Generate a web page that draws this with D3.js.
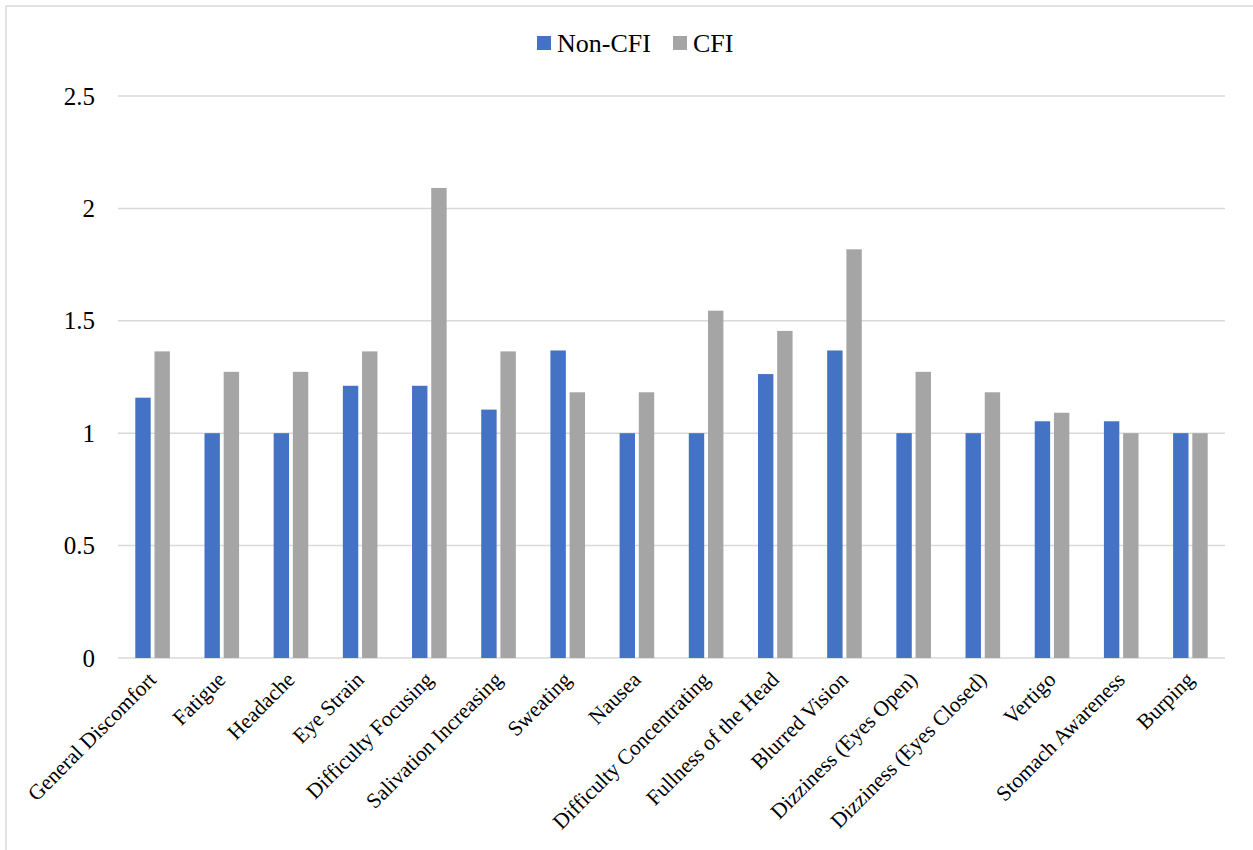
<!DOCTYPE html>
<html>
<head>
<meta charset="utf-8">
<script src="https://cdnjs.cloudflare.com/ajax/libs/d3/7.8.5/d3.min.js"></script>
<style>
  html, body { margin: 0; padding: 0; background: #fff; }
  svg { display: block; font-family: "Liberation Serif", "Times New Roman", serif; }
</style>
</head>
<body>
<svg id="chart" width="1253" height="850"></svg>
<script>
// Symptom categories along the x axis
const categories = [
  "General Discomfort", "Fatigue", "Headache", "Eye Strain", "Difficulty Focusing",
  "Salivation Increasing", "Sweating", "Nausea", "Difficulty Concentrating",
  "Fullness of the Head", "Blurred Vision", "Dizziness (Eyes Open)",
  "Dizziness (Eyes Closed)", "Vertigo", "Stomach Awareness", "Burping"
];

// Mean scores per group
const nonCFI = [1.158, 1, 1, 1.211, 1.211, 1.105, 1.368, 1, 1, 1.263, 1.368, 1, 1, 1.053, 1.053, 1];
const cfi    = [1.364, 1.273, 1.273, 1.364, 2.091, 1.364, 1.182, 1.182, 1.545, 1.455, 1.818, 1.273, 1.182, 1.091, 1, 1];

const seriesNames = ["Non-CFI", "CFI"];
const seriesColors = ["#4472c4", "#a5a5a5"];
const yTicks = [0, 0.5, 1, 1.5, 2, 2.5];

const FONT = "'Liberation Serif', 'Times New Roman', serif";
const svg = d3.select("#chart");
const W = 1253, H = 850;
const plot = { left: 118, right: 1225, top: 96, bottom: 658 };

// Outer frame
svg.append("rect")
  .attr("x", 6).attr("y", 6)
  .attr("width", W + 20).attr("height", H + 20)
  .attr("fill", "#fff").attr("stroke", "#d9d9d9").attr("stroke-width", 1.5);

const x = d3.scaleBand().domain(categories).range([plot.left, plot.right]).padding(0);
const y = d3.scaleLinear().domain([0, 2.5]).range([plot.bottom, plot.top]);

// Horizontal gridlines
svg.append("g")
  .selectAll("line")
  .data(yTicks)
  .join("line")
  .attr("x1", plot.left).attr("x2", plot.right)
  .attr("y1", d => y(d)).attr("y2", d => y(d))
  .attr("stroke", "#d9d9d9").attr("stroke-width", 1.5);

// Y axis labels
const yAxis = d3.axisLeft(y).tickValues(yTicks).tickSize(0).tickPadding(23)
  .tickFormat(d => String(d));
const yg = svg.append("g").attr("transform", `translate(${plot.left},0)`).call(yAxis);
yg.select(".domain").remove();
yg.selectAll("text")
  .attr("font-family", FONT)
  .attr("font-size", 25).attr("fill", "#000");

// Bars: two series side by side within each category
const barW = 15.4, barGap = 3.8;
const offsets = [-(barGap / 2 + barW), barGap / 2];
const seriesData = [nonCFI, cfi];

seriesData.forEach((vals, si) => {
  svg.append("g")
    .selectAll("rect")
    .data(vals)
    .join("rect")
    .attr("x", (d, i) => x(categories[i]) + x.bandwidth() / 2 + offsets[si])
    .attr("y", d => y(d))
    .attr("width", barW)
    .attr("height", d => y(0) - y(d))
    .attr("fill", seriesColors[si]);
});

// X axis category labels, rotated
const xAxis = d3.axisBottom(x).tickSize(0).tickPadding(0);
const xg = svg.append("g").attr("transform", `translate(0,${plot.bottom})`).call(xAxis);
xg.select(".domain").remove();
xg.selectAll("text")
  .attr("font-family", FONT)
  .attr("font-size", 21.5).attr("fill", "#000")
  .attr("text-anchor", "end")
  .attr("dy", "0")
  .attr("transform", "translate(5,23) rotate(-45)");

// Legend
const legend = svg.append("g").attr("transform", "translate(537,43)");
const legendX = [0, 136];
seriesNames.forEach((name, i) => {
  const g = legend.append("g").attr("transform", `translate(${legendX[i]},0)`);
  g.append("rect").attr("x", 0).attr("y", -7).attr("width", 14).attr("height", 14)
    .attr("fill", seriesColors[i]);
  g.append("text").attr("x", 20).attr("y", 9)
    .attr("font-family", FONT)
    .attr("font-size", 26).attr("fill", "#000").text(name);
});
</script>
</body>
</html>
